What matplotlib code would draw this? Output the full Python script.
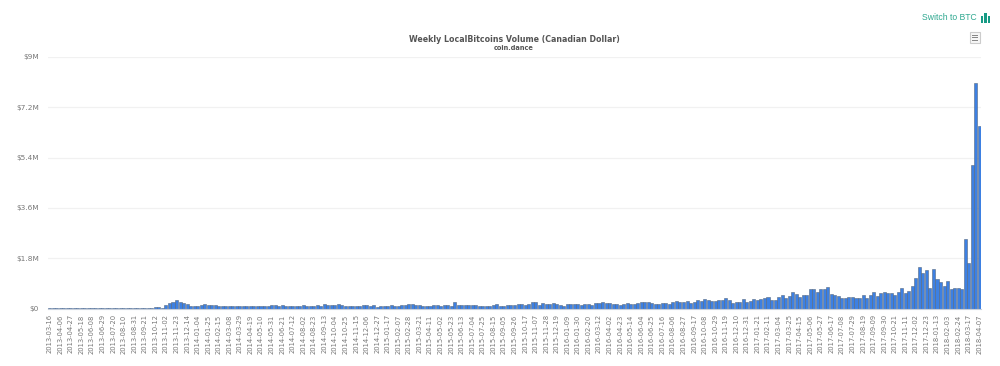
import pandas as pd
import matplotlib
matplotlib.use("Agg")
import matplotlib.pyplot as plt
from matplotlib.patches import Rectangle

# Volumen semanal en miles de CAD
vol_2013 = [3, 3, 5, 12, 10, 4, 4, 5, 4, 3, 3, 3, 3, 3, 4, 3, 3, 3, 4, 3, 4, 6, 6, 6, 8, 8, 12, 10,
            25, 28, 55, 40, 25, 110, 190, 230, 320, 240, 195, 165]
vol_2014 = [80, 85, 105, 115, 165, 130, 135, 130, 90, 95, 90, 100, 105, 95, 85, 80, 80, 75, 75, 80, 80, 85, 80,
            135, 110, 100, 140, 90, 90, 85, 95, 100, 125, 90, 90, 90, 110, 105, 150, 115, 110, 110, 175,
            135, 105, 100, 100, 85, 85, 125, 125, 85, 115, 70]
vol_2015 = [80, 85, 95, 115, 100, 100, 115, 110, 160, 170, 140, 120, 105, 100, 100, 125, 115, 100, 120, 135,
            95, 220, 110, 130, 115, 125, 125, 120, 90, 95, 85, 95, 140, 165, 90, 85, 115, 120, 125, 150,
            150, 115, 170, 220, 240, 140, 180, 155, 160, 185, 170, 130]
vol_2016 = [90, 170, 170, 165, 175, 125, 165, 175, 140, 185, 190, 220, 195, 200, 150, 150, 140, 170, 180, 170,
            160, 205, 250, 230, 225, 190, 150, 170, 180, 200, 165, 225, 285, 215, 250, 260, 180, 225,
            300, 265, 355, 300, 255, 255, 300, 300, 360, 290, 200, 250, 230, 340, 250]
vol_2017 = [285, 330, 290, 350, 360, 425, 300, 310, 400, 480, 370, 460, 600, 530, 420, 500, 480, 700, 680, 600,
            690, 700, 780, 510, 490, 430, 390, 360, 400, 420, 380, 385, 480, 380, 490, 590, 430, 570,
            600, 560, 570, 480, 600, 750, 540, 640, 820, 1100, 1480, 1280, 1370, 740]
vol_2018 = [1400, 1070, 960, 800, 1000, 680, 740, 720, 710, 2500, 1640, 5130, 8060, 6530]
vol = vol_2013 + vol_2014 + vol_2015 + vol_2016 + vol_2017 + vol_2018

semanas = pd.date_range("2013-03-16", "2018-04-07", freq="7D")

ticks_y = [0, 1.8e6, 3.6e6, 5.4e6, 7.2e6, 9e6]
etiquetas_y = ["$0", "$1.8M", "$3.6M", "$5.4M", "$7.2M", "$9M"]

W, H = 1000, 366
fig = plt.figure(figsize=(W / 100, H / 100), dpi=100, facecolor="white")
ax = fig.add_axes([48 / W, 1 - 308.5 / H, 933 / W, 251.5 / H])

x = list(range(len(semanas)))
ax.bar(x, [v * 1000 for v in vol], width=0.86, color="#3d80e2", edgecolor="#56687f", linewidth=0.4, zorder=3)
ax.set_xlim(-0.5, len(semanas) - 0.5)
ax.set_ylim(0, 9e6)

ax.set_yticks(ticks_y)
ax.set_yticklabels(etiquetas_y, fontsize=5.3, color="#777777")
ax.set_xticks(x[::3])
ax.set_xticklabels([d.strftime("%Y-%m-%d") for d in semanas[::3]], rotation=90, fontsize=4.9, color="#777777")
ax.tick_params(axis="x", length=0, pad=4.2)
ax.tick_params(axis="y", length=0, pad=6.5)
ax.grid(axis="y", color="#f1f1f1", linewidth=0.9, zorder=0)
ax.set_axisbelow(True)
for s in ["top", "right", "left"]:
    ax.spines[s].set_visible(False)
ax.spines["bottom"].set_color("#c8d0dc")
ax.spines["bottom"].set_linewidth(0.8)
ax.spines["bottom"].set_zorder(4)

fig.text(514 / W, 1 - 39.5 / H, "Weekly LocalBitcoins Volume (Canadian Dollar)", ha="center", va="center",
         fontsize=5.65, fontweight="bold", color="#555555")
fig.text(514 / W, 1 - 48.5 / H, "coin.dance", ha="center", va="center", fontsize=4.75, fontweight="bold", color="#555555")

# Enlace e icono arriba a la derecha
fig.text(922 / W, 1 - 17.5 / H, "Switch to BTC", ha="left", va="center", fontsize=6.25, color="#2fa890", family="Liberation Sans")
for bx, bh in [(980.5, 6), (984, 9.5), (987.5, 6)]:
    fig.add_artist(Rectangle((bx / W, 1 - 22.5 / H), 2.6 / W, bh / H, transform=fig.transFigure, color="#179b85", lw=0))

# Boton de menu
fig.add_artist(Rectangle((969.5 / W, 1 - 42.5 / H), 10 / W, 10 / H, transform=fig.transFigure,
                         facecolor="#f7f7f7", edgecolor="#cccccc", linewidth=0.8))
for ly in [35.5, 38, 40.5]:
    fig.add_artist(Rectangle((971.5 / W, 1 - ly / H), 6 / W, 0.8 / H, transform=fig.transFigure, color="#888888", lw=0))

fig.savefig("out.png", dpi=100)
